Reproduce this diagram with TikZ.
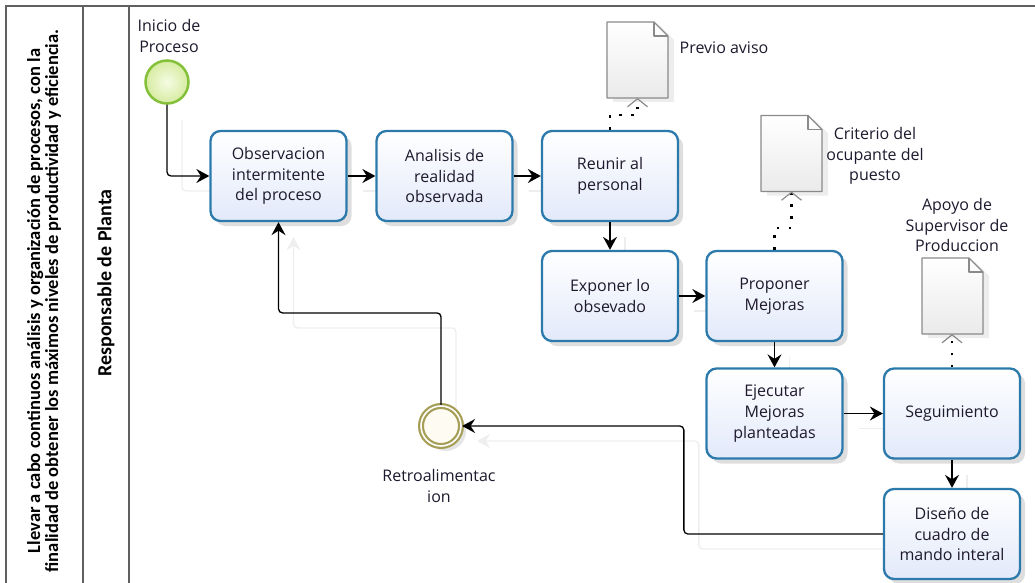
\documentclass[tikz,border=0pt]{standalone}
\usepackage{fontspec}
\setmainfont{Open Sans}
\newfontfamily\lanefont{Carlito}
\usetikzlibrary{arrows.meta,shadows,calc}
\pgfdeclarelayer{background}
\pgfsetlayers{background,main}
\definecolor{boxline}{RGB}{44,122,172}
\definecolor{boxfill}{RGB}{226,233,250}
\definecolor{txt}{RGB}{30,25,45}
\definecolor{startline}{RGB}{132,192,58}
\definecolor{startin}{RGB}{246,251,228}
\definecolor{startout}{RGB}{214,236,160}
\definecolor{endline}{RGB}{166,158,86}
\definecolor{endfill}{RGB}{253,251,242}
\definecolor{docline}{RGB}{138,138,138}
\definecolor{docfill}{RGB}{234,234,234}
\definecolor{frameline}{RGB}{96,96,96}
\definecolor{ghostline}{RGB}{238,238,238}
\newcommand\docdraw[1]{%
  \fill[black,opacity=0.07] ([shift={(6pt,-4pt)}]#1.north west) -- ([shift={(-8pt,-4pt)}]#1.north east) -- ([shift={(6pt,-18pt)}]#1.north east) -- ([shift={(6pt,-4pt)}]#1.south east) -- ([shift={(6pt,-4pt)}]#1.south west) -- cycle;
  \draw[docstyle] (#1.north west) -- ([xshift=-14pt]#1.north east) -- ([yshift=-14pt]#1.north east) -- (#1.south east) -- (#1.south west) -- cycle;
  \draw[docline, line width=1.2pt, line join=round] ([xshift=-14pt]#1.north east) |- ([yshift=-14pt]#1.north east);
}
\begin{document}
\begin{tikzpicture}[x=1pt,y=-1pt,
  every node/.style={font=\fontsize{16}{20.7}\selectfont, text=txt},
  task/.style={draw=boxline, line width=2.3pt, rounded corners=10pt,
    minimum width=136pt, minimum height=90pt, align=center, inner sep=2pt,
    top color=white, bottom color=boxfill,
    drop shadow={shadow xshift=5pt, shadow yshift=-5pt, opacity=0.13, fill=black}},
  startev/.style={circle, draw=startline, line width=2.5pt, minimum size=43pt,
    inner sep=0pt, inner color=startin, outer color=startout},
  endev/.style={circle, draw=endline, line width=2.2pt, double=white,
    double distance=1.6pt, minimum size=40pt, inner sep=0pt, fill=endfill,
    drop shadow={shadow xshift=5pt, shadow yshift=-5pt, opacity=0.1, fill=black}},
  docbox/.style={rectangle, draw=none, minimum width=61pt, minimum height=76pt,
    inner sep=0pt, outer sep=0pt},
  docstyle/.style={draw=docline, line width=1.2pt, line join=round,
    top color=white, bottom color=docfill},
  lbl/.style={align=center},
  lane/.style={font=\lanefont\bfseries\fontsize{18.5}{18}\selectfont,
    text=black, rotate=90, align=center},
  frame/.style={draw=frameline, line width=1.3pt},
  flow/.style={draw=black, line width=1.3pt, rounded corners=4pt,
    -{Stealth[length=13pt,width=14pt,inset=4.5pt]}},
  ghost/.style={draw=ghostline, line width=1.3pt, rounded corners=4pt,
    -{Stealth[length=13pt,width=14pt,inset=4.5pt]},
    transform canvas={shift={(15pt,-15pt)}}},
  assoc/.style={draw=black, line width=2.6pt, dash pattern=on 2.6pt off 9.4pt,
    -{Straight Barb[length=8pt,width=20pt,line width=1.2pt,color=docline]}}
]
\useasboundingbox (0,0) rectangle (1035,583);
% pool frame
\draw[frame] (6,583) -- (6,6) -- (1035,6);
\draw[frame] (83,6) -- (83,583);
\draw[frame] (129,6) -- (129,583);
\node[lane] (pool) at (44,301) {Llevar a cabo continuos análisis y organización de procesos, con la\\finalidad de obtener los máximos niveles de productividad y eficiencia.};
\node[lane, font=\lanefont\bfseries\fontsize{20}{20}\selectfont] (lane) at (106,283) {Responsable de Planta};

% events
\node[startev] (start) at (167,82) {};
\node[lbl] (startlbl) at (169,36) {Inicio de\\Proceso};
\node[endev] (end) at (441,426) {};
\node[lbl] (endlbl) at (439,486) {Retroalimentac\\ion};

% tasks
\node[task] (obs) at (278.5,176) {Observacion\\intermitente\\del proceso};
\node[task] (ana) at (444.5,176) {Analisis de\\realidad\\observada};
\node[task] (reu) at (610,176) {Reunir al\\personal};
\node[task] (exp) at (610,296) {Exponer lo\\obsevado};
\node[task] (pro) at (774.5,296) {Proponer\\Mejoras};
\node[task] (eje) at (774.5,413.5) {Ejecutar\\Mejoras\\planteadas};
\node[task] (seg) at (952,413.5) {Seguimiento};
\node[task] (dis) at (952,534) {Diseño de\\cuadro de\\mando interal};

% documents
\node[docbox] (d1) at (637.5,60) {};
\node[docbox] (d2) at (791.5,153.5) {};
\node[docbox] (d3) at (952.5,296) {};
\docdraw{d1}
\docdraw{d2}
\docdraw{d3}
\node[lbl] (d1lbl) at (724,48) {Previo aviso};
\node[lbl] (d2lbl) at (875,156) {Criterio del\\ocupante del\\puesto};
\node[lbl] (d3lbl) at (957,225) {Apoyo de\\Supervisor de\\Produccion};

% ghost shadows of connectors
\begin{pgfonlayer}{background}
\draw[ghost] (start) |- (obs);
\draw[ghost] (dis.west) -- ++(-199,0) |- (end.east);
\draw[ghost] (end.north) -- ++(0,-92) -| (obs.south);
\draw[ghost] (obs) -- (ana);
\draw[ghost] (ana) -- (reu);
\draw[ghost] (reu) -- (exp);
\draw[ghost] (exp) -- (pro);
\draw[ghost] (pro) -- (eje);
\draw[ghost] (eje) -- (seg);
\draw[ghost] (seg) -- (dis);
\end{pgfonlayer}

% sequence flows
\draw[flow] (start) |- (obs);
\draw[flow] (obs) -- (ana);
\draw[flow] (ana) -- (reu);
\draw[flow] (reu) -- (exp);
\draw[flow] (exp) -- (pro);
\draw[flow] (pro) -- (eje);
\draw[flow] (eje) -- (seg);
\draw[flow] (seg) -- (dis);
\draw[flow] (dis.west) -- ++(-199,0) |- (end.east);
\draw[flow] (end.north) -- ++(0,-92) -| (obs.south);

% associations
\draw[assoc] (reu.north) -- ++(0,-15) -| (d1.south);
\draw[assoc] (pro.north) -- ++(0,-22) -| (d2.south);
\draw[assoc] (seg.north) -- (seg.north |- d3.south);
\end{tikzpicture}
\end{document}
